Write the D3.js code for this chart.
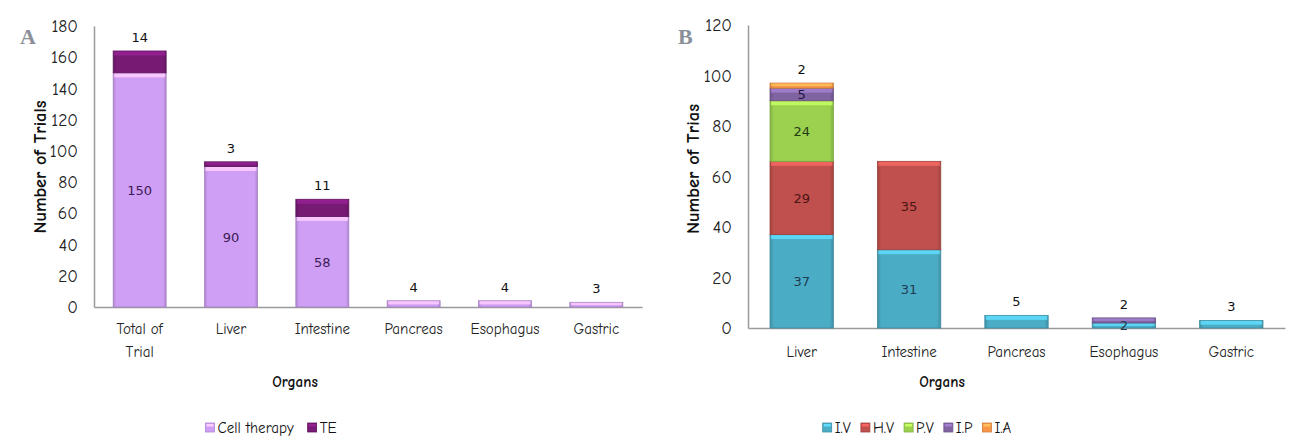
<!DOCTYPE html>
<html><head><meta charset="utf-8">
<script src="https://cdn.jsdelivr.net/npm/d3@7"></script>
<style>
body{margin:0;background:#fff;}
svg{display:block;}
</style></head><body>
<svg id="c" width="1291" height="442"></svg>
<script>
// ---------- Panel A data ----------
const categoriesA = ["Total of Trial", "Liver", "Intestine", "Pancreas", "Esophagus", "Gastric"];
const cellTherapy = [150, 90, 58, 4, 4, 3];
const teValues   = [14, 3, 11, 0, 0, 0];
const ticksA = [0, 20, 40, 60, 80, 100, 120, 140, 160, 180];
const seriesNamesA = ["Cell therapy", "TE"];

// ---------- Panel B data ----------
const categoriesB = ["Liver", "Intestine", "Pancreas", "Esophagus", "Gastric"];
const ivValues = [37, 31, 5, 2, 3];
const hvValues = [29, 35, 0, 0, 0];
const pvValues = [24, 0, 0, 0, 0];
const ipValues = [5, 0, 0, 2, 0];
const iaValues = [2, 0, 0, 0, 0];
const ticksB = [0, 20, 40, 60, 80, 100, 120];
const seriesNamesB = ["I.V", "H.V", "P.V", "I.P", "I.A"];

const comic = '"Comic Sans MS","Comic Neue","DejaVu Sans",sans-serif';
const plain = '"DejaVu Sans",Arial,sans-serif';

const svg = d3.select("#c");
const defs = svg.append("defs");

function makeGrad(id, base){
  const c = d3.color(base);
  const g = defs.append("linearGradient").attr("id", id).attr("x1","0").attr("x2","1").attr("y1","0").attr("y2","0");
  g.append("stop").attr("offset","0").attr("stop-color", c.darker(0.5));
  g.append("stop").attr("offset","0.06").attr("stop-color", base);
  g.append("stop").attr("offset","0.94").attr("stop-color", base);
  g.append("stop").attr("offset","1").attr("stop-color", c.darker(0.5));
}

function drawPanel(cfg){
  const g = svg.append("g");
  const x = d3.scaleBand().domain(cfg.categories).range([cfg.x0, cfg.x1]).paddingInner(cfg.pad).paddingOuter(cfg.pad/2);
  const y = d3.scaleLinear().domain([0, cfg.ymax]).range([cfg.y0, cfg.y1]);

  const rows = cfg.categories.map((c,i)=>{ const r={cat:c}; cfg.series.forEach(s=>r[s.name]=s.values[i]); return r;});
  const stack = d3.stack().keys(cfg.series.map(s=>s.name))(rows);
  cfg.series.forEach((s,si)=>makeGrad(cfg.id+"g"+si, s.color));

  const ya = g.append("g").attr("transform",`translate(${cfg.x0},0)`)
    .call(d3.axisLeft(y).tickValues(cfg.ticks).tickSize(0).tickPadding(cfg.tickPad));
  ya.select(".domain").attr("stroke","#9a9a9a").attr("stroke-width",1.5);
  ya.selectAll("text").attr("font-size",17.5).attr("fill","#222").attr("font-family",comic);

  const xa = g.append("g").attr("transform",`translate(0,${cfg.y0})`)
    .call(d3.axisBottom(x).tickSize(0).tickPadding(cfg.xPad));
  xa.select(".domain").attr("stroke","#9a9a9a").attr("stroke-width",1.5);
  xa.selectAll("text").attr("font-size",15).attr("fill","#222").attr("font-family",comic)
    .each(function(d){
      const t = d3.select(this);
      if (cfg.wrap && d.length > 10){
        const parts = d.split(" ");
        const l1 = parts.slice(0,2).join(" "), l2 = parts.slice(2).join(" ");
        t.text(null);
        t.append("tspan").attr("x",0).attr("dy","0.71em").text(l1);
        t.append("tspan").attr("x",0).attr("dy","1.55em").text(l2);
        t.attr("dy",null);
      }
    });

  stack.forEach((layer, si)=>{
    const s = cfg.series[si];
    layer.forEach((d,i)=>{
      const v = d[1]-d[0];
      if (v<=0) return;
      const bx = x(cfg.categories[i]), bw = x.bandwidth();
      const top = y(d[1]), bot = y(d[0]);
      const h = bot-top;
      g.append("rect").attr("x",bx).attr("y",top).attr("width",bw).attr("height",h)
        .attr("fill",`url(#${cfg.id}g${si})`).attr("stroke", d3.color(s.color).darker(0.6)).attr("stroke-width",0.8);
      const hh = Math.min(4, h*0.5);
      g.append("rect").attr("x",bx+1).attr("y",top+0.5).attr("width",bw-2).attr("height",hh)
        .attr("fill", d3.color(s.color).brighter(0.7)).attr("opacity",0.85);
    });
  });

  cfg.categories.forEach((c,i)=>{
    let topIdx = -1;
    stack.forEach((layer,si)=>{ if (layer[i][1]-layer[i][0]>0) topIdx = si; });
    stack.forEach((layer,si)=>{
      const d = layer[i]; const v = d[1]-d[0];
      if (v<=0) return;
      const cx = x(c)+x.bandwidth()/2;
      const above = si===topIdx && (cfg.allTopAbove || v<10);
      let ty, fill;
      if (above){ ty = y(d[1]) - 9; fill = "#111"; }
      else { ty = (y(d[0])+y(d[1]))/2 + 5; fill = cfg.series[si].text; }
      g.append("text").attr("x",cx).attr("y",ty).attr("text-anchor","middle")
        .attr("font-family",plain).attr("font-size",13).attr("fill",fill).text(v);
    });
  });

  g.append("text").attr("transform",`translate(${cfg.ytitleX},${cfg.ytitleY}) rotate(-90)`)
    .attr("text-anchor","middle").attr("font-family",comic).attr("font-weight","bold").attr("font-size",19)
    .attr("textLength",cfg.ytitleLen).attr("lengthAdjust","spacingAndGlyphs")
    .attr("fill","#111").text(cfg.ytitle);
  g.append("text").attr("x",cfg.xtitleX).attr("y",cfg.xtitleY).attr("text-anchor","middle")
    .attr("font-family",comic).attr("font-weight","bold").attr("font-size",15).attr("fill","#111").text("Organs");
  g.append("text").attr("x",cfg.letterX).attr("y",cfg.letterY).attr("font-family","'Liberation Serif','DejaVu Serif',serif")
    .attr("font-weight","bold").attr("font-size",22).attr("fill","#8a8f9a").text(cfg.letter);

  const lg = g.append("g");
  let lx = 0;
  cfg.series.forEach((s)=>{
    const it = lg.append("g").attr("transform",`translate(${lx},0)`);
    it.append("rect").attr("x",0).attr("y",-10).attr("width",9).attr("height",9)
      .attr("fill",s.color).attr("stroke",d3.color(s.color).darker(0.5)).attr("stroke-width",0.8);
    it.append("rect").attr("x",1).attr("y",-9).attr("width",7).attr("height",2.5).attr("fill",d3.color(s.color).brighter(0.7));
    const t = it.append("text").attr("x",12).attr("y",0).attr("font-family",comic).attr("font-size",15).attr("fill","#111").text(s.name);
    const w = t.node().getComputedTextLength();
    lx += 12 + w + cfg.legendGap;
  });
  const totalW = lx - cfg.legendGap;
  lg.attr("transform",`translate(${cfg.legendCX - totalW/2},${cfg.legendY})`);
}

drawPanel({
  id:"A", categories:categoriesA, x0:94, x1:642, y0:307, y1:26, ymax:180, ticks:ticksA, pad:0.42, tickPad:16, xPad:16,
  series:[
    {name:seriesNamesA[0], values:cellTherapy, color:"#cf9ff5", text:"#3d1a55"},
    {name:seriesNamesA[1], values:teValues, color:"#761a74", text:"#fff"}
  ],
  allTopAbove:true, wrap:true,
  ytitle:"Number of Trials", ytitleX:46, ytitleY:167, ytitleLen:133, xtitleX:295, xtitleY:387, letter:"A", letterX:20, letterY:44,
  legendCX:271, legendY:433, legendGap:14
});

drawPanel({
  id:"B", categories:categoriesB, x0:748, x1:1285, y0:328, y1:25, ymax:120, ticks:ticksB, pad:0.41, tickPad:16, xPad:18,
  series:[
    {name:seriesNamesB[0], values:ivValues, color:"#4bacc6", text:"#1d3b50"},
    {name:seriesNamesB[1], values:hvValues, color:"#c0504d", text:"#4a1414"},
    {name:seriesNamesB[2], values:pvValues, color:"#9bd14f", text:"#1f3b10"},
    {name:seriesNamesB[3], values:ipValues, color:"#8064a2", text:"#1d1540"},
    {name:seriesNamesB[4], values:iaValues, color:"#f79646", text:"#111"}
  ],
  allTopAbove:false, wrap:false,
  ytitle:"Number of Trias", ytitleX:699, ytitleY:169, ytitleLen:130, xtitleX:942, xtitleY:387, letter:"B", letterX:678, letterY:44,
  legendCX:917, legendY:433, legendGap:10
});
</script>
</body></html>
